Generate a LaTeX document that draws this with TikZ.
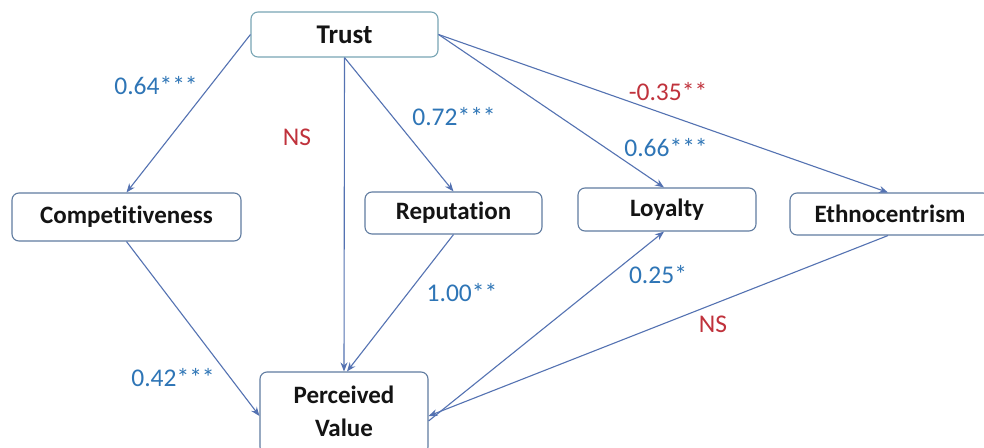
\documentclass[tikz,border=0pt]{standalone}
\usepackage{fontspec}
\setmainfont{Carlito}[RawFeature=-liga]
\usetikzlibrary{arrows.meta}
\definecolor{linec}{RGB}{84,114,178}
\definecolor{boxc}{RGB}{96,124,160}
\definecolor{trustc}{RGB}{120,165,180}
\definecolor{labb}{RGB}{46,117,182}
\definecolor{labr}{RGB}{192,50,60}
\tikzset{
  box/.style={draw=boxc, line width=1.1pt, rounded corners=7pt, fill=white, inner sep=0pt,
    font=\fontsize{25}{33}\selectfont\bfseries, text=black!92},
  conn/.style={draw=linec, line width=1.1pt, -{Stealth[length=9pt,width=7pt]}},
  lb/.style={text=labb, font=\fontsize{25.5}{28}\selectfont, inner sep=0pt},
  lr/.style={text=labr, font=\fontsize{25.5}{28}\selectfont, inner sep=0pt},
}
\begin{document}
\begin{tikzpicture}[x=1pt,y=-1pt]
\useasboundingbox[fill=white] (0,0) rectangle (984,447);
\node[box, draw=trustc, minimum width=187pt, minimum height=45pt, font=\fontsize{27}{30}\selectfont\bfseries] (trust) at (344.5,34.5) {Trust};
\node[box, minimum width=229pt, minimum height=48pt] (comp) at (126.5,217) {Competitiveness};
\node[box, minimum width=177pt, minimum height=42pt] (rep) at (453.5,213) {Reputation};
\node[box, minimum width=178pt, minimum height=43pt] (loy) at (667,209.5) {Loyalty};
\node[box, minimum width=200pt, minimum height=42pt] (eth) at (890,214) {Ethnocentrism};
\node[box, minimum width=168pt, minimum height=82pt, align=center] (pv) at (344,413) {};
\node[font=\fontsize{25}{33}\selectfont\bfseries, text=black!92, align=center, inner sep=0pt] (pvt) at (344,411) {Perceived\\Value};
\draw[conn] (trust.west) -- (comp.north);
\draw[conn] (trust.south) -- (pv.north);
\draw[conn] (trust.south) -- (rep.north);
\draw[conn] (trust.east) -- ([xshift=-3pt]loy.north);
\draw[conn] (trust.east) -- (eth.north -| 888,0);
\draw[conn] (comp.south) -- ([yshift=-3pt]pv.west);
\draw[conn] (rep.south) -- ([xshift=3pt]pv.north);
\draw[conn] ([yshift=-8pt]pv.east) -- ([xshift=-3pt]loy.south);
\draw[conn] (eth.south -| 888,0) -- ([yshift=-3pt]pv.east);
\node[lb] (l1) at (156,86) {0.64***};
\node[lr] (l2) at (297,137) {NS};
\node[lb] (l3) at (454,117) {0.72***};
\node[lr] (l4) at (668,92) {-0.35**};
\node[lb] (l5) at (666,148) {0.66***};
\node[lb] (l6) at (462,293) {1.00**};
\node[lb] (l7) at (658,275) {0.25*};
\node[lr] (l8) at (713,324) {NS};
\node[lb] (l9) at (173,378) {0.42***};
\end{tikzpicture}
\end{document}
